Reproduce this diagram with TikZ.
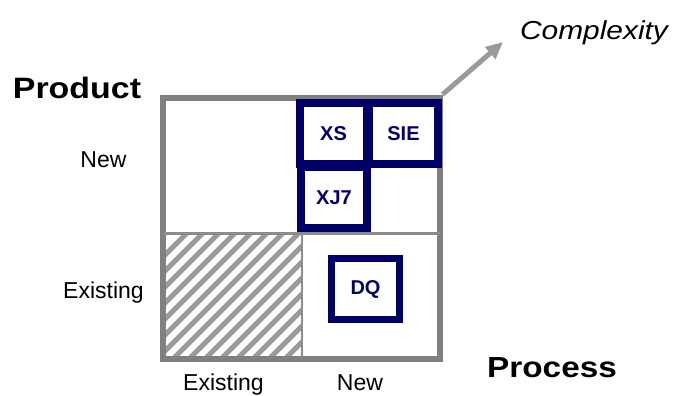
\documentclass[tikz,border=0pt]{standalone}
\usepackage{fontspec}
\setmainfont{Liberation Sans}
\usepackage{graphicx}
\usetikzlibrary{arrows.meta}
\definecolor{navy}{HTML}{000066}
\definecolor{framegray}{HTML}{808080}
\definecolor{linegray}{HTML}{8C8C8C}
\definecolor{hatchgray}{HTML}{9A9A9A}
\definecolor{arrowgray}{HTML}{9A9A9A}
\newcommand{\sx}[1]{\scalebox{1.15}[1]{#1}}
\begin{document}
\begin{tikzpicture}[x=1pt,y=-1pt,
  lbl/.style={inner sep=0pt, anchor=base},
  bigtext/.style={lbl, font=\fontsize{29.5}{35}\selectfont\bfseries},
  axistext/.style={lbl, font=\fontsize{23}{27}\selectfont},
  prodbox/.style={draw=navy, line width=8pt, inner sep=0pt, text=navy,
    font=\fontsize{20}{24}\selectfont\bfseries},
  divider/.style={draw=linegray, line width=2.5pt},
  hatchline/.style={draw=hatchgray, line width=5pt}
]
\useasboundingbox (0,0) rectangle (677,396);

% hatched quadrant
\begin{scope}
  \clip (165,234) rectangle (302,356);
  \foreach \k in {0,...,18}
    \draw[hatchline] (50+\k*16,370) -- ++(170,-170);
\end{scope}

% outer frame
\node[draw=framegray, line width=6pt, minimum width=276.5pt, minimum height=261pt,
      inner sep=0pt] (frame) at (301.25,228) {};
\coordinate (midL) at (163,233.5);
\coordinate (midR) at (439.5,233.5);
\coordinate (midT) at (302,97.5);
\coordinate (midB) at (302,358.5);
\draw[divider] (midL) -- (midR);
\draw[divider] (midT) -- (midB);

% product boxes
\node[prodbox, minimum width=67pt, minimum height=61pt] (xs) at (333.5,133.5) {\raisebox{-2.5pt}{XS}};
\node[prodbox, minimum width=69pt, minimum height=61pt] (sie) at (403.5,133.5) {\raisebox{-2.5pt}{SIE}};
\node[prodbox, minimum width=66pt, minimum height=61pt] (xj7) at (334,197.5) {\raisebox{-2.5pt}{XJ7}};
\node[prodbox, line width=7pt, minimum width=68pt, minimum height=61pt] (dq) at (365.5,289) {\raisebox{-3pt}{DQ}};

% complexity arrow
\coordinate (cplx) at (503,42);
\draw[draw=arrowgray, line width=5pt, -{Triangle[length=17pt,width=15pt]}] (frame.north east) -- (cplx);

% texts
\node[lbl, font=\fontsize{26}{31}\selectfont\itshape] (complexity) at (594,40) {\sx{Complexity}};
\node[bigtext] (product) at (77,98) {\sx{Product}};
\node[bigtext, font=\fontsize{29}{35}\selectfont\bfseries] (process) at (552,377) {\sx{Process}};
\node[axistext] (newL) at (103.5,167) {New};
\node[axistext] (existL) at (103.5,298) {Existing};
\node[axistext] (existB) at (223.5,390.5) {Existing};
\node[axistext] (newB) at (360,390.5) {New};
\end{tikzpicture}
\end{document}
